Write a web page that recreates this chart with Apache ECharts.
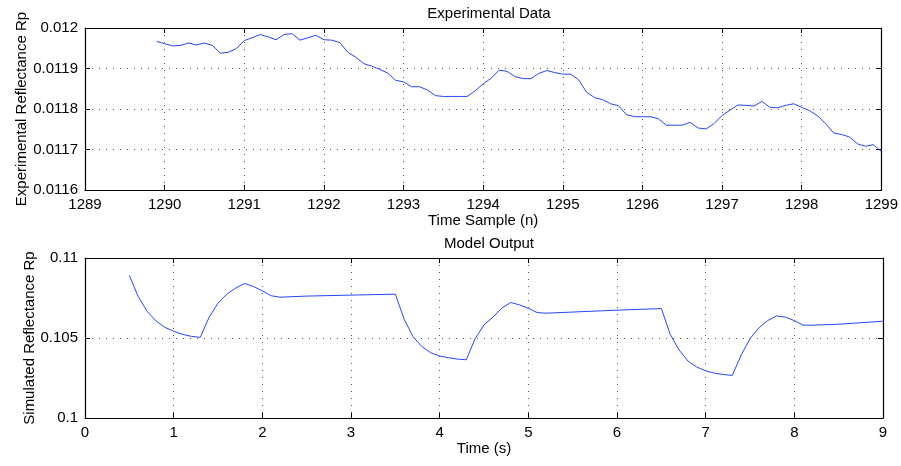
<!DOCTYPE html>
<html>
<head>
<meta charset="utf-8">
<script src="https://cdn.jsdelivr.net/npm/echarts@6/dist/echarts.min.js"></script>
<style>
html,body{margin:0;padding:0;background:#fff;}
#chart{width:901px;height:466px;}
</style>
</head>
<body>
<div id="chart"></div>
<script>
// ---- Data: Experimental Data (top) ----
var expSample = [
1289.9,1290.0,1290.1,1290.2,1290.3,1290.4,1290.5,1290.6,1290.7,1290.8,1290.9,
1291.0,1291.1,1291.2,1291.3,1291.4,1291.5,1291.6,1291.7,1291.8,1291.9,
1292.0,1292.1,1292.2,1292.3,1292.4,1292.5,1292.6,1292.7,1292.8,1292.9,
1293.0,1293.1,1293.2,1293.3,1293.4,1293.5,1293.6,1293.7,1293.8,1293.9,
1294.0,1294.1,1294.2,1294.3,1294.4,1294.5,1294.6,1294.7,1294.8,1294.9,
1295.0,1295.1,1295.2,1295.3,1295.4,1295.5,1295.6,1295.7,1295.8,1295.9,
1296.0,1296.1,1296.2,1296.3,1296.4,1296.5,1296.6,1296.7,1296.8,1296.9,
1297.0,1297.1,1297.2,1297.3,1297.4,1297.5,1297.6,1297.7,1297.8,1297.9,
1298.0,1298.1,1298.2,1298.3,1298.4,1298.5,1298.6,1298.7,1298.8,1298.9,
1299.0
];
var expReflectance = [
0.011967,0.011961,0.011956,0.011957,0.011963,0.011958,0.011963,0.011957,0.011938,0.011940,0.011949,
0.011969,0.011976,0.011984,0.011978,0.011971,0.011984,0.011986,0.011970,0.011976,0.011982,
0.011971,0.011970,0.011964,0.011940,0.011928,0.011912,0.011906,0.011898,0.011889,0.011871,
0.011867,0.011855,0.011855,0.011847,0.011833,0.011831,0.011831,0.011831,0.011831,0.011845,
0.011862,0.011876,0.011896,0.011893,0.011880,0.011875,0.011875,0.011888,0.011895,0.011890,
0.011886,0.011886,0.011872,0.011841,0.011828,0.011823,0.011813,0.011808,0.011786,0.011781,
0.011781,0.011781,0.011776,0.011760,0.011760,0.011760,0.011767,0.011753,0.011751,0.011764,
0.011784,0.011797,0.011810,0.011809,0.011807,0.011819,0.011804,0.011803,0.011809,0.011813,
0.011804,0.011796,0.011783,0.011764,0.011741,0.011737,0.011731,0.011714,0.011708,0.011712,
0.011695
];

// ---- Data: Model Output (bottom) ----
var modelTime = [
0.5,0.6,0.7,0.8,0.9,1.0,1.1,1.2,1.3,1.4,1.5,1.6,1.7,1.8,1.9,2.0,2.1,2.2,2.5,3.0,3.5,
3.6,3.7,3.8,3.9,4.0,4.1,4.2,4.3,4.4,4.5,4.6,4.7,4.8,4.9,5.0,5.1,5.2,6.0,6.5,
6.6,6.7,6.8,6.9,7.0,7.1,7.2,7.3,7.4,7.5,7.6,7.7,7.8,7.9,8.0,8.1,8.2,8.5,9.0
];
var modelReflectance = [
0.10891,0.10759,0.10667,0.10607,0.10567,0.10542,0.10523,0.10510,0.10504,0.10630,0.10718,0.10774,0.10812,0.10841,0.10822,0.10795,0.10764,0.10755,0.10762,0.10768,0.10774,
0.10617,0.10508,0.10446,0.10408,0.10387,0.10377,0.10368,0.10364,0.10496,0.10582,0.10630,0.10686,0.10722,0.10707,0.10686,0.10659,0.10655,0.10674,0.10684,
0.10523,0.10425,0.10356,0.10318,0.10295,0.10280,0.10272,0.10266,0.10393,0.10496,0.10563,0.10609,0.10638,0.10630,0.10609,0.10580,0.10580,0.10586,0.10605
];

// ---- Labels ----
var topTitle = 'Experimental Data';
var bottomTitle = 'Model Output';
var topXName = 'Time Sample (n)';
var topYName = 'Experimental Reflectance Rp';
var bottomXName = 'Time (s)';
var bottomYName = 'Simulated Reflectance Rp';

function pairs(xs, ys){ return xs.map(function(x,i){ return [x, ys[i]]; }); }

var FONT = 'Liberation Sans, Arial, Helvetica, sans-serif';
var FS = 15;
var lineColor = '#2447ff';
var gridDot = { show:true, lineStyle:{ color:'#555', type:[1,6], width:1 } };

function fmt(dec){ return function(v){ return String(parseFloat(v.toFixed(dec))); }; }

function mainX(gridIndex, min, max, interval, name, gap, dec){
  return {
    type:'value', gridIndex:gridIndex, min:min, max:max, interval:interval,
    position:'bottom',
    name:name, nameLocation:'middle', nameGap:gap,
    nameTextStyle:{ fontFamily:FONT, fontSize:FS, color:'#000' },
    axisLine:{ show:true, onZero:false, lineStyle:{ color:'#000', width:1.2 } },
    axisTick:{ show:true, inside:true, length:5, lineStyle:{ color:'#000' } },
    axisLabel:{ fontFamily:FONT, fontSize:FS, color:'#000', margin:7,
      showMinLabel:true, showMaxLabel:true, formatter:fmt(dec) },
    splitLine: gridDot
  };
}
function mirrorX(gridIndex, min, max, interval){
  return {
    type:'value', gridIndex:gridIndex, min:min, max:max, interval:interval,
    position:'top',
    axisLine:{ show:true, onZero:false, lineStyle:{ color:'#000', width:1.2 } },
    axisTick:{ show:true, inside:true, length:5, lineStyle:{ color:'#000' } },
    axisLabel:{ show:false }, splitLine:{ show:false }
  };
}
function mainY(gridIndex, min, max, interval, name, gap, dec){
  return {
    type:'value', gridIndex:gridIndex, min:min, max:max, interval:interval,
    position:'left',
    name:name, nameLocation:'middle', nameGap:gap, nameMoveOverlap:false,
    nameTextStyle:{ fontFamily:FONT, fontSize:FS, color:'#000' },
    axisLine:{ show:true, onZero:false, lineStyle:{ color:'#000', width:1.2 } },
    axisTick:{ show:true, inside:true, length:5, lineStyle:{ color:'#000' } },
    axisLabel:{ fontFamily:FONT, fontSize:FS, color:'#000', margin:7, formatter:fmt(dec) },
    splitLine: gridDot
  };
}
function mirrorY(gridIndex, min, max, interval){
  return {
    type:'value', gridIndex:gridIndex, min:min, max:max, interval:interval,
    position:'right',
    axisLine:{ show:true, onZero:false, lineStyle:{ color:'#000', width:1.2 } },
    axisTick:{ show:true, inside:true, length:5, lineStyle:{ color:'#000' } },
    axisLabel:{ show:false }, splitLine:{ show:false }
  };
}

var chart = echarts.init(document.getElementById('chart'), null, { renderer:'canvas' });
chart.setOption({
  backgroundColor:'#fff',
  animation:false,
  title:[
    { text:topTitle, left:484, top:1, textAlign:'center',
      textStyle:{ fontFamily:FONT, fontSize:FS, fontWeight:'normal', color:'#000' } },
    { text:bottomTitle, left:484, top:231, textAlign:'center',
      textStyle:{ fontFamily:FONT, fontSize:FS, fontWeight:'normal', color:'#000' } }
  ],
  grid:[
    { left:85, right:18, top:28, height:162 },
    { left:85, right:18, top:258, height:160 }
  ],
  xAxis:[
    mainX(0, 1289, 1299, 1, topXName, 20, 0),
    mirrorX(0, 1289, 1299, 1),
    mainX(1, 0, 9, 1, bottomXName, 21, 0),
    mirrorX(1, 0, 9, 1)
  ],
  yAxis:[
    mainY(0, 0.0116, 0.012, 0.0001, topYName, 56, 4),
    mirrorY(0, 0.0116, 0.012, 0.0001),
    mainY(1, 0.1, 0.11, 0.005, bottomYName, 48, 3),
    mirrorY(1, 0.1, 0.11, 0.005)
  ],
  series:[
    { type:'line', xAxisIndex:0, yAxisIndex:0, data:pairs(expSample, expReflectance),
      showSymbol:false, symbol:'none', lineStyle:{ color:lineColor, width:1 } },
    { type:'line', xAxisIndex:2, yAxisIndex:2, data:pairs(modelTime, modelReflectance),
      showSymbol:false, symbol:'none', lineStyle:{ color:lineColor, width:1 } }
  ]
});
</script>
</body>
</html>
